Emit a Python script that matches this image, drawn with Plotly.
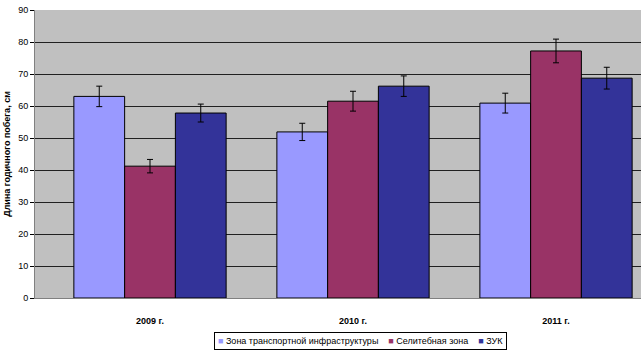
import plotly.graph_objects as go

categories = ["2009 г.", "2010 г.", "2011 г."]
series_names = ["Зона транспортной инфраструктуры", "Селитебная зона", "ЗУК"]
transport = [63.0, 51.9, 60.9]
residential = [41.2, 61.5, 77.2]
zuk = [57.8, 66.2, 68.7]
transport_err = [3.2, 2.7, 3.1]
residential_err = [2.1, 3.1, 3.7]
zuk_err = [2.8, 3.2, 3.4]
y_ticks = [0, 10, 20, 30, 40, 50, 60, 70, 80, 90]

colors = ["#9999FF", "#993366", "#333399"]
values = [transport, residential, zuk]
errors = [transport_err, residential_err, zuk_err]

fig = go.Figure()
for name, vals, errs, col in zip(series_names, values, errors, colors):
    fig.add_trace(go.Bar(
        x=categories, y=vals, name=name,
        marker=dict(color=col, line=dict(color="#000000", width=1)),
        error_y=dict(type="data", array=errs, visible=True, color="#000000", thickness=1, width=3),
    ))

legend_text = "&nbsp;&nbsp;&nbsp;&nbsp;".join(
    f'<span style="color:{c}">■</span> {n}' for n, c in zip(series_names, colors)
)

fig.update_layout(
    width=642, height=353,
    margin=dict(l=35, r=1, t=10, b=55),
    paper_bgcolor="#FFFFFF",
    plot_bgcolor="#C0C0C0",
    barmode="group",
    bargap=0.25,
    bargroupgap=0,
    font=dict(family="Arial, Liberation Sans", size=9, color="#000000"),
    showlegend=False,
    xaxis=dict(
        type="category", range=[-0.5665, 2.4187],
        showgrid=False, ticks="", showline=True, linecolor="#808080", linewidth=1,
        tickfont=dict(size=9, weight="bold"),
        ticklabelstandoff=14,
    ),
    yaxis=dict(
        range=[0, 90], tickvals=y_ticks, showgrid=True, gridcolor="#202020", gridwidth=1,
        showline=True, linecolor="#808080", linewidth=1, ticks="outside", ticklen=4,
        tickcolor="#000000", zeroline=False,
        title=dict(text="<b>Длина годичного побега, см</b>", font=dict(size=9), standoff=6),
    ),
    annotations=[dict(
        text=legend_text, xref="paper", yref="paper", x=0.537, y=-0.151,
        xanchor="center", yanchor="middle", showarrow=False,
        bordercolor="#000000", borderwidth=1, borderpad=3, bgcolor="#FFFFFF",
        font=dict(size=9),
    )],
)

fig.write_html("out.html")
